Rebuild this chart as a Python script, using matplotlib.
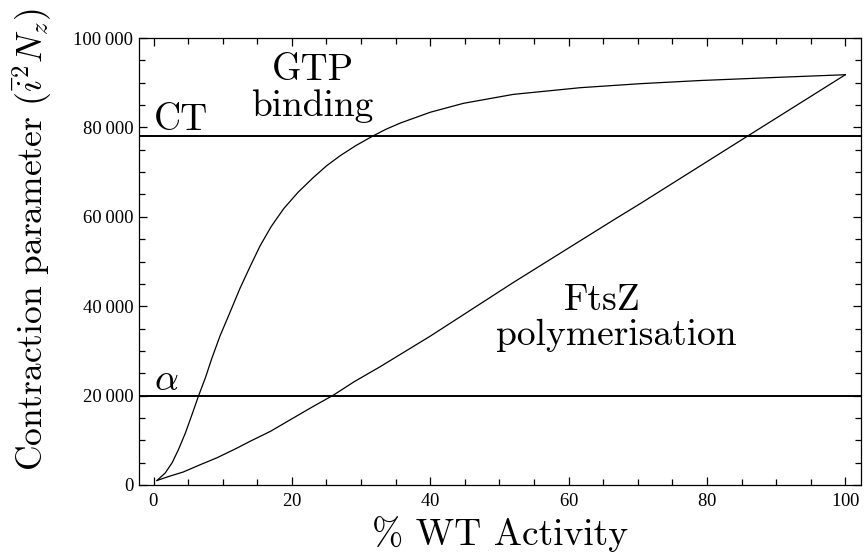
import numpy as np
import matplotlib
matplotlib.use("Agg")
import matplotlib.pyplot as plt
from matplotlib.ticker import MultipleLocator, FuncFormatter

# values
gtp_x = [0.5, 1.7, 2.7, 3.6, 4.6, 5.55, 6.5, 7.5, 8.4, 9.6, 11.1, 12.5, 14.0,
         15.4, 17.0, 18.8, 20.9, 23.1, 25.0, 27.0, 29.2, 31.6, 33.6, 35.7,
         40.0, 44.8, 52.0, 61.7, 70.4, 79.0, 90.0, 100.0]
gtp_y = [1000, 2700, 5000, 7900, 11600, 15700, 19900, 24000, 28200, 33300,
         38800, 44000, 49000, 53500, 57800, 61800, 65500, 68800, 71400, 73700,
         75900, 78000, 79600, 81000, 83400, 85400, 87400, 88900, 89800, 90500,
         91200, 91800]

ftsz_x = [0.5, 2.3, 4.3, 6.7, 9.2, 12.0, 14.0, 16.9, 20.0, 23.0, 26.0, 29.0,
          32.8, 40.0, 52.0, 66.5, 70.4, 85.8, 100.0]
ftsz_y = [1000, 1950, 2900, 4500, 6100, 8200, 9800, 12000, 14800, 17500,
          20100, 23100, 26500, 33300, 45300, 59300, 63000, 78000, 91800]

ct_level = 78000
alpha_level = 20000

plt.rcParams['font.family'] = 'cmr10'
plt.rcParams['mathtext.fontset'] = 'cm'
plt.rcParams['axes.formatter.use_mathtext'] = True

fig = plt.figure(figsize=(8.66, 5.6), dpi=100)
ax = fig.add_axes([0.1605, 0.134, 0.834, 0.798])

ax.plot(gtp_x, gtp_y, color='black', lw=0.9)
ax.plot(ftsz_x, ftsz_y, color='black', lw=0.9)
ax.axhline(ct_level, color='black', lw=1.4)
ax.axhline(alpha_level, color='black', lw=1.4)

ax.set_xlim(-2.1, 102.3)
ax.set_ylim(0, 100000)

ax.xaxis.set_major_locator(MultipleLocator(20))
ax.xaxis.set_minor_locator(MultipleLocator(5))
ax.yaxis.set_major_locator(MultipleLocator(20000))
ax.yaxis.set_minor_locator(MultipleLocator(5000))
ax.yaxis.set_major_formatter(FuncFormatter(lambda v, p: f"{int(v):,}".replace(',', '\u2009')))

ax.tick_params(which='both', direction='in', top=True, right=True, width=0.9)
ax.tick_params(which='major', length=6)
ax.tick_params(which='minor', length=4.5)
for lab in ax.get_xticklabels() + ax.get_yticklabels():
    lab.set_family(['Liberation Serif', 'DejaVu Serif'])
    lab.set_fontsize(13.5)
ax.tick_params(axis='x', pad=6)
ax.tick_params(axis='y', pad=4)
for sp in ax.spines.values():
    sp.set_linewidth(0.9)

ax.set_xlabel('% WT Activity', fontsize=27, labelpad=4)
ax.set_ylabel(r'Contraction parameter $(\bar{i}^{2} N_z)$', fontsize=25.5)
ax.yaxis.set_label_coords(-0.118, 0.548)

ax.text(0, 79500, 'CT', fontsize=27, ha='left', va='baseline')
ax.text(0, 21300, r'$\alpha$', fontsize=27, ha='left', va='baseline')
ax.text(23.0, 90600, 'GTP', fontsize=27, ha='center', va='baseline')
ax.text(23.0, 82600, 'binding', fontsize=27, ha='center', va='baseline')
ax.text(64.8, 39100, 'FtsZ', fontsize=27, ha='center', va='baseline')
ax.text(66.9, 31300, 'polymerisation', fontsize=27, ha='center', va='baseline')

fig.savefig('out.png', dpi=100)
